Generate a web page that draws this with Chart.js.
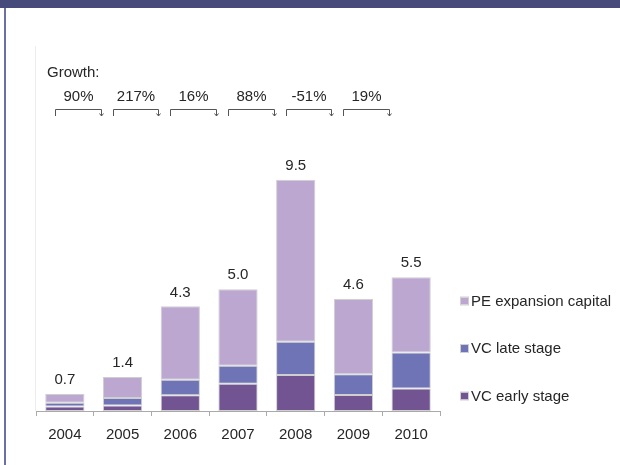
<!DOCTYPE html>
<html>
<head>
<meta charset="utf-8">
<script src="https://cdn.jsdelivr.net/npm/chart.js@4/dist/chart.umd.min.js"></script>
<style>
  html, body { margin: 0; padding: 0; background: #fff; }
  #wrap { width: 620px; height: 465px; position: relative; }
</style>
</head>
<body>
<div id="wrap"><canvas id="chart"></canvas></div>
<script>
// Data
const years = ['2004', '2005', '2006', '2007', '2008', '2009', '2010'];
const vcEarly = [0.19, 0.23, 0.65, 1.12, 1.48, 0.66, 0.92];
const vcLate = [0.15, 0.30, 0.63, 0.74, 1.37, 0.85, 1.48];
const peExpansion = [0.36, 0.87, 3.02, 3.14, 6.65, 3.09, 3.10];
const totals = ['0.7', '1.4', '4.3', '5.0', '9.5', '4.6', '5.5'];
const growth = ['90%', '217%', '16%', '88%', '-51%', '19%'];

const FONT = '"Liberation Sans", Arial, sans-serif';
const TEXT = '#262626';

const decor = {
    id: 'decor',
    beforeDraw(chart) {
        const ctx = chart.ctx;
        ctx.save();
        // frame: top band + left rule
        ctx.fillStyle = '#474b7b';
        ctx.fillRect(0, 0, 620, 8);
        ctx.fillStyle = '#6b6fa3';
        ctx.fillRect(4, 8, 2, 457);
        // faint y axis line
        const a = chart.chartArea;
        ctx.strokeStyle = '#ececec';
        ctx.lineWidth = 1;
        ctx.beginPath();
        ctx.moveTo(35.5, a.top);
        ctx.lineTo(35.5, a.bottom);
        ctx.stroke();
        ctx.restore();
    },
    afterDatasetsDraw(chart) {
        const ctx = chart.ctx;
        const x = chart.scales.x, y = chart.scales.y;
        ctx.save();
        ctx.font = '15px ' + FONT;
        ctx.fillStyle = TEXT;
        ctx.textAlign = 'center';
        ctx.textBaseline = 'middle';
        // totals above bars
        years.forEach((yr, i) => {
            const sum = vcEarly[i] + vcLate[i] + peExpansion[i];
            ctx.fillText(totals[i], x.getPixelForValue(i), y.getPixelForValue(sum) - 14);
        });
        // growth header
        ctx.textAlign = 'left';
        ctx.fillText('Growth:', 47, 73);
        ctx.textAlign = 'center';
        const step = x.getPixelForValue(1) - x.getPixelForValue(0);
        growth.forEach((g, i) => {
            const cx = x.getPixelForValue(i);
            const l = Math.round(cx - 10) + 0.5;
            const r = Math.round(cx + step * 0.62) + 0.5;
            ctx.fillStyle = TEXT;
            ctx.fillText(g, (l + r) / 2, 97);
            ctx.strokeStyle = '#555';
            ctx.lineWidth = 1;
            ctx.beginPath();
            ctx.moveTo(l, 116);
            ctx.lineTo(l, 109.5);
            ctx.lineTo(r, 109.5);
            ctx.lineTo(r, 116);
            ctx.stroke();
            ctx.beginPath();
            ctx.moveTo(r - 2, 113.5);
            ctx.lineTo(r, 116);
            ctx.lineTo(r + 2, 113.5);
            ctx.stroke();
        });
        // legend (reverse order, right side)
        const items = chart.data.datasets.slice().reverse();
        items.forEach((ds, k) => {
            const cy = 301.5 + k * 47.5;
            ctx.fillStyle = ds.backgroundColor;
            ctx.fillRect(461, cy - 4, 7, 7);
            ctx.strokeStyle = '#d0d0d0';
            ctx.strokeRect(460.5, cy - 4.5, 8, 8);
            ctx.fillStyle = TEXT;
            ctx.textAlign = 'left';
            ctx.fillText(ds.label, 471, cy);
        });
        ctx.restore();
    }
};

const common = { borderColor: '#cfcfcf', borderWidth: 1, borderSkipped: false,
                 barPercentage: 0.68, categoryPercentage: 1 };

new Chart(document.getElementById('chart'), {
    type: 'bar',
    data: {
        labels: years,
        datasets: [
            Object.assign({ label: 'VC early stage', data: vcEarly, backgroundColor: '#725493' }, common),
            Object.assign({ label: 'VC late stage', data: vcLate, backgroundColor: '#6e74b5' }, common),
            Object.assign({ label: 'PE expansion capital', data: peExpansion, backgroundColor: '#bba7d0' }, common)
        ]
    },
    options: {
        responsive: true,
        maintainAspectRatio: false,
        animation: false,
        layout: { padding: { left: 36, right: 180, top: 46, bottom: 0 } },
        plugins: { legend: { display: false }, tooltip: { enabled: false } },
        scales: {
            x: {
                stacked: true,
                afterFit(s) { s.height = 54; },
                border: { color: '#aaa' },
                grid: { offset: true, drawOnChartArea: false, tickLength: 5, color: '#aaa' },
                ticks: { color: TEXT, font: { family: FONT, size: 15 }, padding: 10 }
            },
            y: {
                stacked: true,
                display: false,
                min: 0,
                max: 15
            }
        }
    },
    plugins: [decor]
});
</script>
</body>
</html>
